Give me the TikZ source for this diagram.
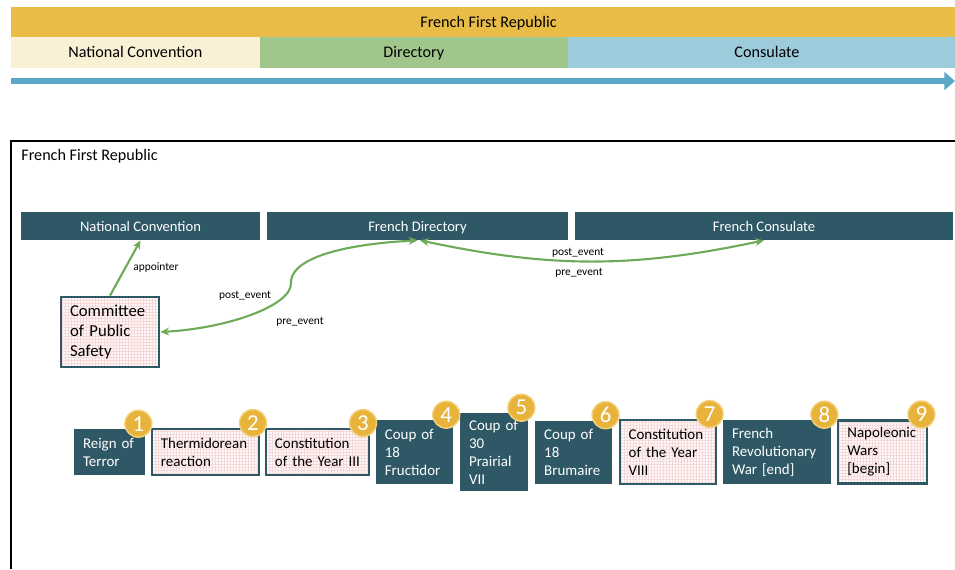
\documentclass[tikz,border=0pt]{standalone}
\usepackage{fontspec}
\setmainfont{Carlito}
\usetikzlibrary{positioning,arrows.meta,patterns.meta}
\definecolor{bandgold}{HTML}{E8BC46}
\definecolor{bandcream}{HTML}{FAF0D5}
\definecolor{bandgreen}{HTML}{A0C68B}
\definecolor{bandblue}{HTML}{9CCBDB}
\definecolor{lineblue}{HTML}{5AA8C5}
\definecolor{darkteal}{HTML}{2E5865}
\definecolor{arrowgreen}{HTML}{6EAB59}
\definecolor{badgegold}{HTML}{E7B33B}
\definecolor{badgerim}{HTML}{F4D27E}
\definecolor{pinkgrid}{HTML}{F5D9D9}
\definecolor{pinkbase}{HTML}{FFF8F8}

\begin{document}
\begin{tikzpicture}[x=0.02cm,y=-0.02cm,
		band/.style={inner sep=0,minimum height=0.6cm,text depth=0pt,font=\fontsize{9.2}{11}\selectfont},
		headbox/.style={fill=darkteal,text=white,inner sep=0,minimum height=0.56cm,text depth=0pt,font=\fontsize{8.3}{10}\selectfont},
		darkev/.style={fill=darkteal,text=white,align=left,inner xsep=0.18cm,inner ysep=0,font=\fontsize{8.5}{10.2}\selectfont},
		pinkev/.style={draw=darkteal,line width=1.2pt,preaction={fill=pinkbase},pattern={Hatch[angle=0,distance=1.7pt,line width=0.3pt]},pattern color=pinkgrid,align=left,inner xsep=0.18cm,inner ysep=0,font=\fontsize{8.5}{10.2}\selectfont},
		badge/.style={circle,fill=badgegold,draw=badgerim,line width=0.8pt,text=white,minimum size=0.54cm,inner sep=0,font=\fontsize{13}{13}\selectfont},
		rel/.style={draw=arrowgreen,line width=1.2pt,>={Stealth[length=5pt,width=4.5pt]}},
		lbl/.style={inner sep=0,font=\fontsize{6.5}{8}\selectfont}]
		\useasboundingbox (0,0) rectangle (955,569);

		\node[band,fill=bandgold,minimum width=19.1cm] (ffr) at (488.5,21.6) {French First Republic};
		\node[band,fill=bandcream,minimum width=4.97cm,minimum height=0.62cm] (nc0) at (135.35,52) {National Convention};
		\node[band,fill=bandgreen,minimum width=6.17cm,minimum height=0.62cm] (dir0) at (413.85,52) {Directory};
		\node[band,fill=bandblue,minimum width=7.96cm,minimum height=0.62cm] (con0) at (767,52) {Consulate};

		\coordinate (t0) at (11,81);
		\coordinate (t1) at (955,81);
		\draw[lineblue,line width=3.2pt,-{Triangle[length=6pt,width=10pt]}] (t0) -- (t1);

		\draw[line width=1.6pt] (955,141) -- (11,141) -- (11,569);
		\node[anchor=west,inner sep=0,font=\fontsize{9.2}{11}\selectfont] (frt) at (21,156) {French First Republic};

		\node[headbox,minimum width=4.78cm] (nc) at (140.5,226) {National Convention};
		\node[headbox,minimum width=6.02cm] (fd) at (417.5,226) {French Directory};
		\node[headbox,minimum width=7.56cm] (fc) at (764,226) {French Consulate};

		\node[pinkev,line width=1.6pt,text width=1.6cm,minimum height=1.4cm,font=\fontsize{9.5}{11.3}\selectfont] (cps) at (110,332) {Committee\\of Public\\Safety};

		\draw[rel,->] (cps.north) -- (nc.south) node[lbl,midway,anchor=west,xshift=0.14cm] (lapp) {appointer};
		\draw[rel,<->] (fd.south) .. controls (330,245) and (290,262) .. (291,283) .. controls (292,305) and (230,328) .. (cps.east);
		\draw[rel,<->] ([xshift=0.05cm]fd.south) to[bend right=12] (fc.south);
		\node[lbl] (lpost1) at (245,296) {post\_event};
		\node[lbl] (lpre1) at (300,322) {pre\_event};
		\node[lbl] (lpost2) at (578,253) {post\_event};
		\node[lbl] (lpre2) at (579,273) {pre\_event};

		\node[darkev,text width=1.06cm,minimum height=0.92cm] (e1) at (109.5,452) {Reign~of\\Terror};
		\node[pinkev,text width=1.78cm,minimum height=0.92cm,right=0.11cm of e1] (e2) {Thermidorean\\reaction};
		\node[pinkev,text width=1.7cm,minimum height=0.92cm,right=0.1cm of e2] (e3) {Constitution\\of~the~Year~III};
		\node[darkev,text width=1.18cm,minimum height=1.28cm,right=0.11cm of e3] (e4) {Coup~of\\18\\Fructidor};
		\node[darkev,text width=1.0cm,minimum height=1.56cm,right=0.13cm of e4] (e5) {Coup~of\\30\\Prairial\\VII};
		\node[darkev,text width=1.18cm,minimum height=1.26cm,right=0.13cm of e5] (e6) {Coup~of\\18\\Brumaire};
		\node[pinkev,text width=1.56cm,minimum height=1.28cm,right=0.12cm of e6] (e7) {Constitution\\of~the~Year\\VIII};
		\node[darkev,text width=1.8cm,minimum height=1.28cm,right=0.12cm of e7] (e8) {French\\Revolutionary\\War~[end]};
		\node[pinkev,text width=1.42cm,minimum height=1.26cm,right=0.12cm of e8] (e9) {Napoleonic\\Wars\\{}[begin]};

		\node[badge] (b1) at ([shift={(-7,-5)}]e1.north east) {1};
		\node[badge] (b2) at ([shift={(-7,-5)}]e2.north east) {2};
		\node[badge] (b3) at ([shift={(-7,-5)}]e3.north east) {3};
		\node[badge] (b4) at ([shift={(-7,-5)}]e4.north east) {4};
		\node[badge] (b5) at ([shift={(-7,-5)}]e5.north east) {5};
		\node[badge] (b6) at ([shift={(-7,-5)}]e6.north east) {6};
		\node[badge] (b7) at ([shift={(-7,-5)}]e7.north east) {7};
		\node[badge] (b8) at ([shift={(-7,-5)}]e8.north east) {8};
		\node[badge] (b9) at ([shift={(-7,-5)}]e9.north east) {9};
	\end{tikzpicture}
\end{document}
